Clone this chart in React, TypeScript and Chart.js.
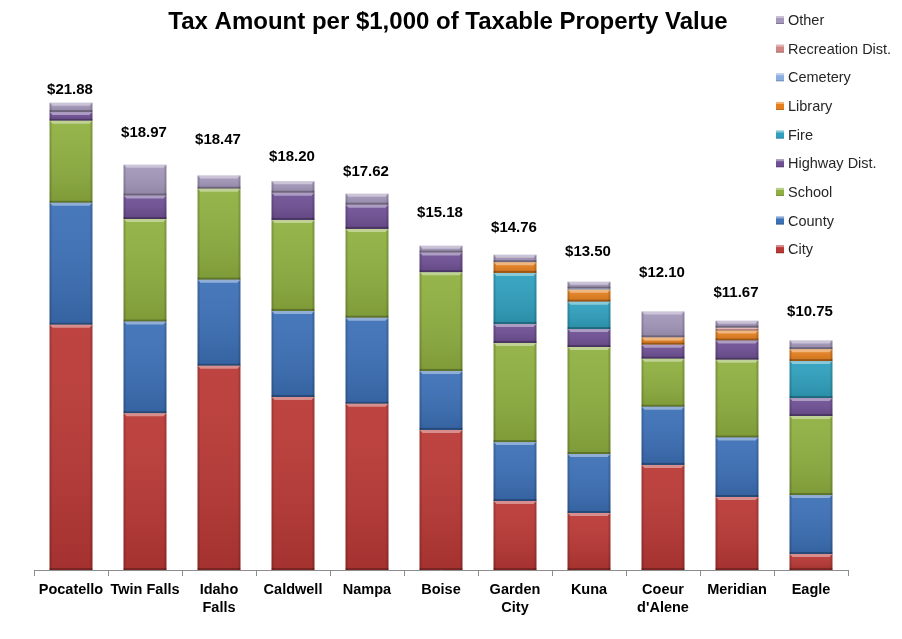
import React, { useEffect, useRef } from "react";
import { Chart, registerables } from "chart.js";

Chart.register(...registerables);

const categories: (string | string[])[] = [
  "Pocatello",
  "Twin Falls",
  ["Idaho", "Falls"],
  "Caldwell",
  "Nampa",
  "Boise",
  ["Garden", "City"],
  "Kuna",
  ["Coeur", "d'Alene"],
  "Meridian",
  "Eagle",
];

const city = [11.48, 7.34, 9.56, 8.1, 7.78, 6.56, 3.23, 2.67, 4.92, 3.42, 0.75];
const county = [5.71, 4.29, 4.03, 4.03, 4.03, 2.76, 2.76, 2.76, 2.72, 2.78, 2.76];
const school = [3.84, 4.8, 4.26, 4.26, 4.16, 4.62, 4.64, 5.01, 2.25, 3.64, 3.7];
const highway = [0.41, 1.1, 0, 1.27, 1.13, 0.92, 0.89, 0.84, 0.66, 0.9, 0.84];
const fire = [0, 0, 0, 0, 0, 0, 2.39, 1.28, 0, 0, 1.73];
const library = [0, 0, 0, 0, 0, 0, 0.5, 0.56, 0.34, 0.47, 0.56];
const cemetery = [0, 0, 0, 0, 0, 0, 0, 0.05, 0, 0, 0];
const recreation = [0, 0, 0, 0, 0, 0, 0, 0, 0, 0.13, 0];
const other = [0.44, 1.44, 0.62, 0.54, 0.52, 0.32, 0.35, 0.33, 1.21, 0.33, 0.41];

const totals = [21.88, 18.97, 18.47, 18.2, 17.62, 15.18, 14.76, 13.5, 12.1, 11.67, 10.75];
const totalLabelAt = [22.5, 20.48, 20.15, 19.35, 18.65, 16.7, 16.03, 14.9, 13.9, 12.98, 12.09];

const seriesNames = [
  "City",
  "County",
  "School",
  "Highway Dist.",
  "Fire",
  "Library",
  "Cemetery",
  "Recreation Dist.",
  "Other",
];
const seriesData = [city, county, school, highway, fire, library, cemetery, recreation, other];
const seriesColors = [
  "#BA3835",
  "#3C70B7",
  "#8FB040",
  "#6F5095",
  "#2FA0BE",
  "#E6801F",
  "#8AAFDF",
  "#D08683",
  "#A497BA",
];

const TITLE = "Tax Amount per $1,000 of Taxable Property Value";

const overlayPlugin = {
  id: "overlay",
  afterDatasetsDraw(chart: any) {
    const ctx = chart.ctx;
    ctx.save();
    chart.data.datasets.forEach((_ds: any, di: number) => {
      const meta = chart.getDatasetMeta(di);
      meta.data.forEach((el: any) => {
        const p = el.getProps(["x", "y", "base", "width"], true);
        const top = Math.min(p.y, p.base);
        const bot = Math.max(p.y, p.base);
        const h = bot - top;
        if (h < 0.8) return;
        const l = p.x - p.width / 2;
        const r = p.x + p.width / 2;
        const g = ctx.createLinearGradient(0, top, 0, bot);
        g.addColorStop(0, "rgba(255,255,255,0.06)");
        g.addColorStop(1, "rgba(0,0,0,0.12)");
        ctx.fillStyle = g;
        ctx.fillRect(l, top, r - l, h);
        ctx.fillStyle = "rgba(0,0,0,0.14)";
        ctx.fillRect(l, top, 2, h);
        ctx.fillRect(r - 2, top, 2, h);
        const bh = Math.min(2, h / 3);
        ctx.fillStyle = "rgba(0,0,0,0.25)";
        ctx.fillRect(l, bot - bh, r - l, bh);
        const th = Math.min(3, h / 2);
        ctx.fillStyle = "rgba(255,255,255,0.4)";
        ctx.beginPath();
        ctx.moveTo(l, top);
        ctx.lineTo(r, top);
        ctx.lineTo(r - th, top + th);
        ctx.lineTo(l + th, top + th);
        ctx.closePath();
        ctx.fill();
      });
    });
    ctx.restore();
  },
  afterDraw(chart: any) {
    const ctx = chart.ctx;
    const xs = chart.scales.x;
    const ys = chart.scales.y;
    ctx.save();
    ctx.fillStyle = "#000";
    ctx.font = "bold 24px 'Liberation Sans', Arial, sans-serif";
    ctx.textAlign = "center";
    ctx.textBaseline = "middle";
    ctx.fillText(TITLE, 448, 22);
    ctx.font = "bold 15px 'Liberation Sans', Arial, sans-serif";
    totals.forEach((t, i) => {
      ctx.fillText("$" + t.toFixed(2), xs.getPixelForValue(i) - 1, ys.getPixelForValue(totalLabelAt[i]));
    });
    ctx.textAlign = "left";
    ctx.font = "14.5px 'Liberation Sans', Arial, sans-serif";
    const n = seriesNames.length;
    for (let k = 0; k < n; k++) {
      const i = n - 1 - k;
      const cy = 20 + k * 28.65;
      ctx.fillStyle = seriesColors[i];
      ctx.fillRect(776, cy - 4, 8, 8);
      ctx.fillStyle = "rgba(255,255,255,0.4)";
      ctx.fillRect(776, cy - 4, 8, 2);
      ctx.fillStyle = "rgba(0,0,0,0.2)";
      ctx.fillRect(776, cy + 3, 8, 1);
      ctx.fillStyle = "#262626";
      ctx.fillText(seriesNames[i], 788, cy + 1);
    }
    ctx.restore();
  },
};

export default function App() {
  const ref = useRef<HTMLCanvasElement | null>(null);
  useEffect(() => {
    if (!ref.current) return;
    const chart = new Chart(ref.current, {
      type: "bar",
      data: {
        labels: categories as any,
        datasets: seriesNames.map((name, i) => ({
          label: name,
          data: seriesData[i],
          backgroundColor: seriesColors[i],
          borderWidth: 0,
          barPercentage: 0.58,
          categoryPercentage: 1,
        })),
      },
      options: {
        responsive: false,
        animation: false,
        layout: { padding: { left: 34, right: 54, top: 36, bottom: 0 } },
        plugins: {
          legend: { display: false },
          title: { display: false },
          tooltip: { enabled: false },
        },
        scales: {
          x: {
            stacked: true,
            afterFit: (s: any) => {
              s.height = 69;
            },
            border: { display: true, color: "#8c8c8c", width: 1 },
            grid: {
              offset: true,
              drawOnChartArea: false,
              drawTicks: true,
              tickLength: 6,
              color: "#8c8c8c",
            },
            ticks: {
              color: "#000",
              padding: 5,
              maxRotation: 0,
              autoSkip: false,
              font: { family: "'Liberation Sans', Arial, sans-serif", size: 14.5, weight: "bold", lineHeight: 1.25 },
            },
          },
          y: {
            stacked: true,
            display: false,
            min: 0,
            max: 25,
          },
        },
      },
      plugins: [overlayPlugin],
    });
    return () => chart.destroy();
  }, []);
  return (
    <div style={{ position: "absolute", left: 0, top: 0, width: 902, height: 639, background: "#fff" }}>
      <canvas ref={ref} width={902} height={639} style={{ display: "block", width: 902, height: 639 }} />
    </div>
  );
}
